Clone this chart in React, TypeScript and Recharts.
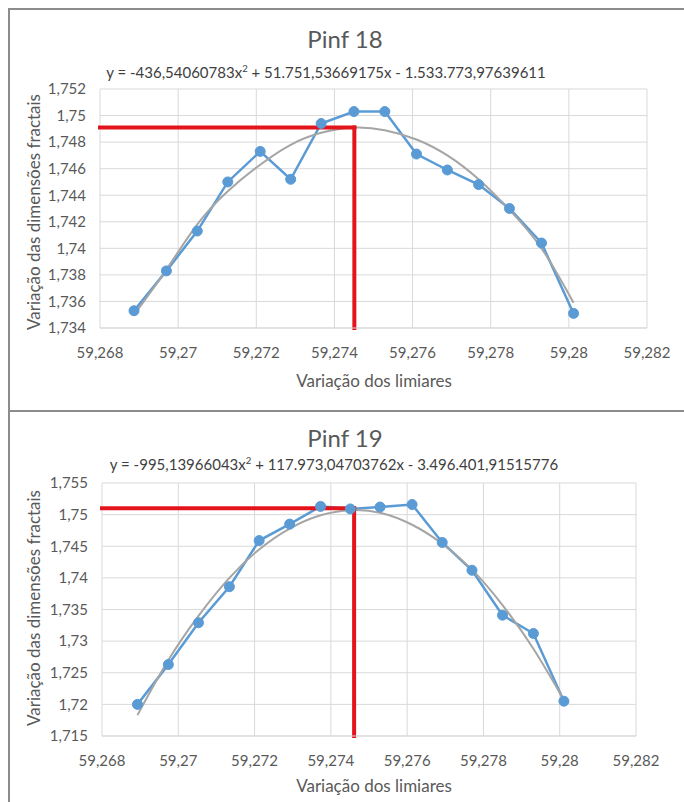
import { LineChart, Line, XAxis, YAxis, CartesianGrid, ReferenceLine } from 'recharts';

// Pinf 18
const limiares18 = [
  59.26887, 59.2697, 59.27049, 59.27127, 59.2721, 59.27288, 59.27366, 59.2745,
  59.27529, 59.2761, 59.27689, 59.27769, 59.27848, 59.2793, 59.28012,
];
const dimensoes18 = [
  1.7353, 1.7383, 1.7413, 1.745, 1.7473, 1.7452, 1.7494, 1.7503,
  1.7503, 1.7471, 1.7459, 1.7448, 1.743, 1.7404, 1.7351,
];
const tendencia18 = [
  1.735, 1.7384, 1.7418, 1.7443, 1.7463, 1.7478, 1.7487, 1.7491,
  1.7489, 1.7482, 1.747, 1.7452, 1.7429, 1.74, 1.7359,
];
const pico18 = [59.27451, 1.7491];

// Pinf 19
const limiares19 = [
  59.26893, 59.26974, 59.27053, 59.27134, 59.27212, 59.27292, 59.27373, 59.27451,
  59.27529, 59.27613, 59.27692, 59.2777, 59.2785, 59.27931, 59.28011,
];
const dimensoes19 = [
  1.72, 1.7263, 1.7329, 1.7386, 1.7459, 1.7485, 1.7513, 1.7509,
  1.7512, 1.7516, 1.7456, 1.7412, 1.7341, 1.7312, 1.7205,
];
const tendencia19 = [
  1.7183, 1.727, 1.734, 1.74, 1.7445, 1.7478, 1.7499, 1.7507,
  1.7503, 1.7484, 1.7454, 1.7413, 1.7357, 1.7288, 1.7207,
];
const pico19 = [59.27461, 1.751];

const xTicks = [59.268, 59.27, 59.272, 59.274, 59.276, 59.278, 59.28, 59.282];
const yTicks18 = [1.734, 1.736, 1.738, 1.74, 1.742, 1.744, 1.746, 1.748, 1.75, 1.752];
const yTicks19 = [1.715, 1.72, 1.725, 1.73, 1.735, 1.74, 1.745, 1.75, 1.755];

const FONT = 'Lato, "Open Sans", sans-serif';
const TEXT = '#595959';

const fmt = (v: number) => String(parseFloat(v.toFixed(3))).replace('.', ',');

interface PanelProps {
  top: number;
  height: number;
  title: string;
  eqA: string;
  eqB: string;
  xs: number[];
  ys: number[];
  trend: number[];
  yTicks: number[];
  peak: number[];
  margin: { top: number; right: number; bottom: number; left: number };
  titleY: number;
  eqX: number;
  eqY: number;
  yLabelY: number;
  xLabelY: number;
}

function Panel(p: PanelProps) {
  const rows = p.xs.map((x, i) => ({ x, dim: p.ys[i], trend: p.trend[i] }));
  const yMin = p.yTicks[0];
  const yMax = p.yTicks[p.yTicks.length - 1];
  const center = (x: number, y: number): React.CSSProperties => ({
    position: 'absolute',
    left: x,
    top: y,
    transform: 'translate(-50%, -50%)',
    whiteSpace: 'nowrap',
    fontFamily: FONT,
  });

  return (
    <div style={{ position: 'absolute', left: 0, top: p.top, width: 684, height: p.height }}>
      <LineChart width={684} height={p.height} data={rows} margin={p.margin}>
        <CartesianGrid stroke="#d9d9d9" strokeWidth={1} />
        <XAxis
          dataKey="x"
          type="number"
          domain={[59.268, 59.282]}
          ticks={xTicks}
          tickFormatter={fmt}
          height={30}
          tickLine={false}
          tickSize={0}
          tickMargin={19}
          axisLine={{ stroke: '#d9d9d9' }}
          tick={{ fill: TEXT, fontSize: 15, fontFamily: FONT }}
          interval={0}
        />
        <YAxis
          type="number"
          domain={[yMin, yMax]}
          ticks={p.yTicks}
          tickFormatter={fmt}
          width={80}
          tickLine={false}
          tickSize={0}
          tickMargin={14}
          axisLine={false}
          tick={{ fill: TEXT, fontSize: 15, fontFamily: FONT }}
          interval={0}
        />
        <Line
          dataKey="dim"
          type="linear"
          stroke="#5b9bd5"
          strokeWidth={2.5}
          dot={{ r: 5, fill: '#5b9bd5', stroke: '#5b9bd5', strokeWidth: 1 }}
          activeDot={false}
          isAnimationActive={false}
        />
        <Line
          dataKey="trend"
          type="natural"
          stroke="#a5a5a5"
          strokeWidth={2}
          dot={false}
          activeDot={false}
          isAnimationActive={false}
        />
        <ReferenceLine
          segment={[{ x: 59.268, y: p.peak[1] }, { x: p.peak[0], y: p.peak[1] }]}
          stroke="#e3141b"
          strokeWidth={4}
          strokeLinecap="square"
        />
        <ReferenceLine
          segment={[{ x: p.peak[0], y: p.peak[1] }, { x: p.peak[0], y: yMin }]}
          stroke="#e3141b"
          strokeWidth={4}
          strokeLinecap="square"
        />
      </LineChart>

      <div style={{ ...center(345, p.titleY), fontSize: 24, color: TEXT }}>{p.title}</div>
      <div style={{ ...center(p.eqX, p.eqY), fontSize: 15, color: '#404040' }}>
        {p.eqA}
        <sup style={{ fontSize: 9.5 }}>2</sup>
        {p.eqB}
      </div>
      <div
        style={{
          ...center(33, p.yLabelY),
          transform: 'translate(-50%, -50%) rotate(-90deg)',
          fontSize: 17,
          color: TEXT,
        }}
      >
        Variação das dimensões fractais
      </div>
      <div style={{ ...center(374, p.xLabelY), fontSize: 17, color: TEXT }}>Variação dos limiares</div>
    </div>
  );
}

export default function App() {
  return (
    <div style={{ position: 'absolute', left: 0, top: 0, width: 684, height: 802, background: '#fff', overflow: 'hidden' }}>
      <Panel
        top={0}
        height={410}
        title="Pinf 18"
        eqA="y = -436,54060783x"
        eqB=" + 51.751,53669175x - 1.533.773,97639611"
        xs={limiares18}
        ys={dimensoes18}
        trend={tendencia18}
        yTicks={yTicks18}
        peak={pico18}
        margin={{ top: 89, right: 37, bottom: 52, left: 20 }}
        titleY={38}
        eqX={326}
        eqY={72}
        yLabelY={212}
        xLabelY={380}
      />
      <Panel
        top={411}
        height={391}
        title="Pinf 19"
        eqA="y = -995,13966043x"
        eqB=" + 117.973,04703762x - 3.496.401,91515776"
        xs={limiares19}
        ys={dimensoes19}
        trend={tendencia19}
        yTicks={yTicks19}
        peak={pico19}
        margin={{ top: 72, right: 48, bottom: 36, left: 22 }}
        titleY={26}
        eqX={334}
        eqY={53}
        yLabelY={197}
        xLabelY={374}
      />
      <div style={{ position: 'absolute', left: 8, top: 8, width: 676, height: 2, background: '#8c8c8c' }} />
      <div style={{ position: 'absolute', left: 8, top: 8, width: 2, height: 794, background: '#8c8c8c' }} />
      <div style={{ position: 'absolute', left: 8, top: 410, width: 676, height: 2, background: '#8c8c8c' }} />
    </div>
  );
}
